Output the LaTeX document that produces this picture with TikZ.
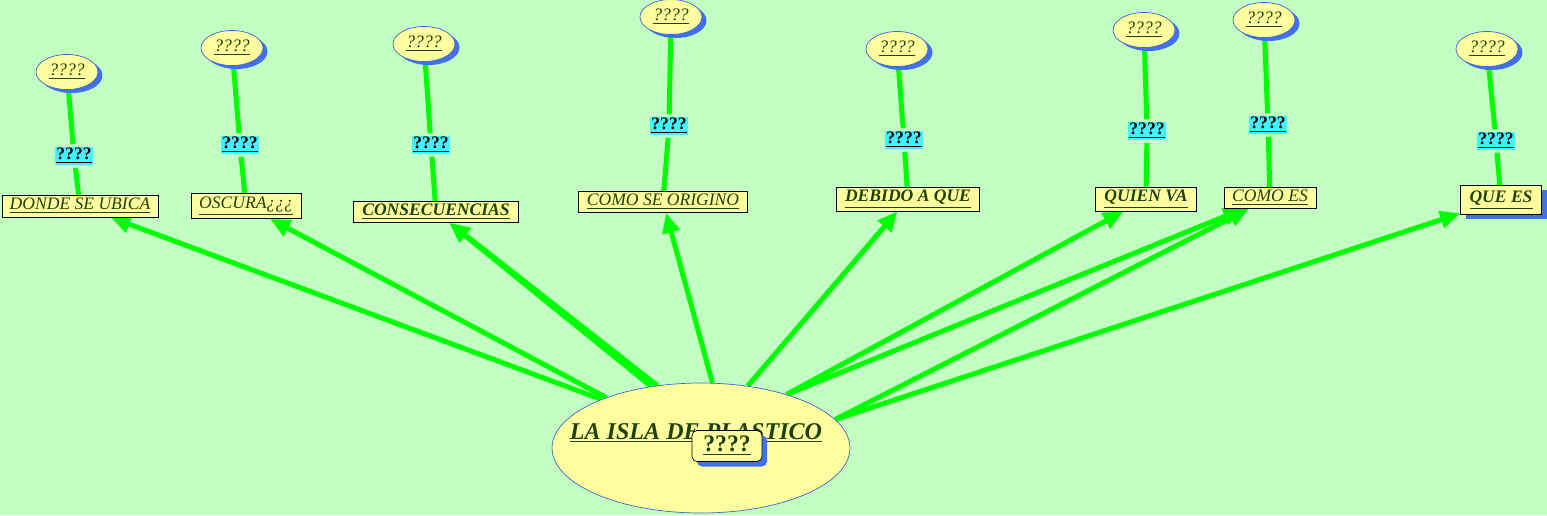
\documentclass[tikz,border=0pt]{standalone}
\usepackage{fontspec}
\setmainfont{Liberation Serif}
\usetikzlibrary{arrows.meta}
\usetikzlibrary{shapes.geometric}
\usetikzlibrary{shadows}
\usetikzlibrary{backgrounds}
\definecolor{color_mapa_fondo}{HTML}{C3FFC3}
\definecolor{color_mapa_linea}{HTML}{00FF00}
\definecolor{color_mapa_caja}{HTML}{FFFFA0}
\definecolor{color_mapa_borde}{HTML}{3D68C8}
\definecolor{color_mapa_sombra}{HTML}{4070EE}
\definecolor{color_mapa_etiqueta}{HTML}{3FF5FF}
\definecolor{color_mapa_texto}{HTML}{1F4200}
\def\mapalinea{0.1cm}

\begin{document}
\begin{tikzpicture}[x=0.02cm, y=-0.02cm,
        burbuja/.style={ellipse, draw=color_mapa_borde, fill=color_mapa_caja, inner sep=0pt,
            minimum width=1.24cm, minimum height=0.7cm, text=color_mapa_texto,
            font=\fontsize{10}{12}\selectfont\itshape,
            drop shadow={shadow xshift=0.09cm, shadow yshift=-0.07cm, fill=color_mapa_sombra, opacity=1}},
        etiqueta/.style={fill=color_mapa_etiqueta, inner sep=0.6pt, outer sep=0.06cm,
            font=\fontsize{10}{12}\selectfont\bfseries},
        caja/.style={rectangle, draw=black, fill=color_mapa_caja, inner sep=1pt, text=color_mapa_texto,
            font=\fontsize{10}{12}\selectfont\itshape},
        enlace/.style={draw=color_mapa_linea, line width=\mapalinea},
        flecha/.style={draw=color_mapa_linea, line width=\mapalinea,
            -{Triangle[length=0.4cm, width=0.34cm]}}]
        \useasboundingbox (0,0) rectangle (1547,515);

        % top ellipses and link labels
        \foreach \i/\ex/\ey/\lx/\ly in {1/67/72/74/156, 2/232/48/240/145, 3/424/44/431/145,
                4/671/17/669/126, 5/897/49/904/140, 6/1144/30/1147/131,
                7/1264/20/1268/125, 8/1487/49/1496/141}
        {
            \node[burbuja] (e\i) at (\ex,\ey) {\underline{????}};
            \node[etiqueta] (l\i) at (\lx,\ly) {\underline{????}};
        }

        % concept boxes
        \node[caja, minimum width=3.12cm, minimum height=0.44cm] (b1) at (80,206) {\underline{DONDE SE UBICA}};
        \node[caja, minimum width=2.2cm, minimum height=0.5cm] (b2) at (246,206) {\underline{OSCURA¿¿¿}};
        \node[caja, minimum width=3.3cm, minimum height=0.42cm, font=\fontsize{10}{12}\selectfont\bfseries\itshape] (b3) at (436,212) {\underline{CONSECUENCIAS}};
        \node[caja, minimum width=3.38cm, minimum height=0.42cm] (b4) at (663,202) {\underline{COMO SE ORIGINO}};
        \node[caja, minimum width=2.86cm, minimum height=0.48cm, font=\fontsize{10}{12}\selectfont\bfseries\itshape] (b5) at (908,199) {\underline{DEBIDO A QUE}};
        \node[caja, minimum width=2.02cm, minimum height=0.48cm, font=\fontsize{10}{12}\selectfont\bfseries\itshape] (b6) at (1146,199) {\underline{QUIEN VA}};
        \node[caja, minimum width=1.84cm, minimum height=0.42cm] (b7) at (1270,198) {\underline{COMO ES}};
        \node[caja, minimum width=1.62cm, minimum height=0.58cm, font=\fontsize{10}{12}\selectfont\bfseries\itshape,
            drop shadow={shadow xshift=0.1cm, shadow yshift=-0.09cm, fill=color_mapa_sombra, opacity=1}] (b8) at (1501,200) {\underline{QUE ES}};

        % main concept
        \node[ellipse, draw=color_mapa_borde, fill=color_mapa_caja, minimum width=5.96cm, minimum height=2.6cm] (isla) at (701,448) {};
        \node[text=color_mapa_texto, font=\fontsize{13.7}{16}\selectfont\bfseries\itshape] (titulo) at (696,433) {\underline{LA ISLA DE PLASTICO}};
        \node[draw=black, fill=color_mapa_caja, rounded corners=0.1cm, minimum width=1.4cm, minimum height=0.62cm,
            inner sep=1pt, text=color_mapa_texto, font=\fontsize{13.5}{16}\selectfont\bfseries,
            drop shadow={shadow xshift=0.1cm, shadow yshift=-0.1cm, fill=color_mapa_sombra, opacity=1}] (centro) at (727,446) {\underline{????}};

        \begin{pgfonlayer}{background}
            \fill[color_mapa_fondo] (0,0) rectangle (1547,515);
            % links
            \foreach \i in {1,...,8}
                \draw[enlace] (e\i) -- (l\i) -- (b\i);
            % arrows from the main concept
            \foreach \a/\b in {154/1, 152/2, 125/3, 129/3, 80/4, 53/5, 32/6, 32/7, 12/7, 12/8}
                \draw[flecha] (isla.\a) -- (b\b);
        \end{pgfonlayer}
    \end{tikzpicture}
\end{document}
